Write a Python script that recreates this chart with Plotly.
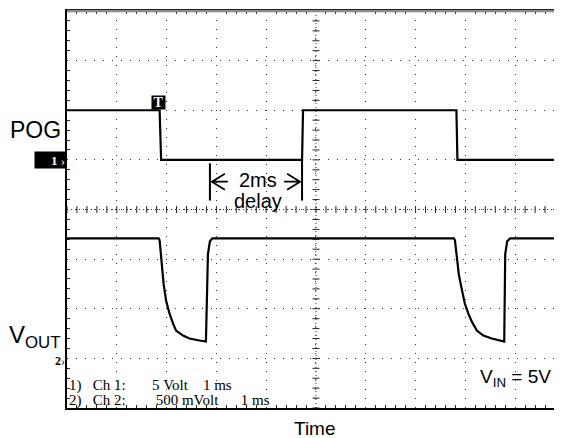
import plotly.graph_objects as go

# ---- data (time in ms, values in volts) ----
pog_t = [0.0, 1.86, 1.89, 4.72, 4.74, 7.82, 7.84, 9.9]
pog_v = [5.0, 5.0, 0.0, 0.0, 5.0, 5.0, 0.0, 0.0]

vout_t = [0.0, 1.84, 1.86, 1.89, 1.94, 1.99, 2.06, 2.13, 2.19, 2.33, 2.46, 2.66, 2.79,
          2.83, 2.87, 2.92,
          7.77, 7.79, 7.83, 7.87, 7.93, 7.99, 8.06, 8.13, 8.23, 8.36, 8.53, 8.69, 8.78,
          8.80, 8.84, 8.90, 9.9]
vout_v = [1.21, 1.21, 1.19, 1.03, 0.75, 0.58, 0.45, 0.35, 0.28, 0.23, 0.20, 0.18, 0.17,
          1.05, 1.18, 1.21,
          1.21, 1.19, 1.03, 0.84, 0.69, 0.55, 0.45, 0.37, 0.28, 0.23, 0.20, 0.18, 0.17,
          1.05, 1.18, 1.21, 1.21]

# scope readout: (word, number of spaces before it)
readout_line1 = [("1)", 0), ("Ch", 3), ("1:", 1), ("5", 7), ("Volt", 1), ("1", 4), ("ms", 1)]
readout_line2 = [("2)", 0), ("Ch", 3), ("2:", 1), ("500", 8), ("mVolt", 1), ("1", 6), ("ms", 1)]

# scope channel settings
ch1_volts_per_div = 5.0
ch1_offset_div = 1.0
ch2_volts_per_div = 0.5
ch2_offset_div = -3.0

pog_div = [ch1_offset_div + v / ch1_volts_per_div for v in pog_v]
vout_div = [ch2_offset_div + v / ch2_volts_per_div for v in vout_v]

delay_start = vout_t[14]   # VOUT recovered
delay_end = pog_t[3]       # POG rising edge

fig = go.Figure()

# centre crosshair ticks (graticule)
tick_x = [i * 0.2 for i in range(0, 50)]
tick_y = [-4 + i * 0.2 for i in range(0, 41)]
fig.add_trace(go.Scatter(x=tick_x, y=[0] * len(tick_x), mode="markers",
                         marker=dict(symbol="line-ns", size=5, line=dict(width=1, color="#222")),
                         hoverinfo="skip", showlegend=False))
fig.add_trace(go.Scatter(x=[5] * len(tick_y), y=tick_y, mode="markers",
                         marker=dict(symbol="line-ew", size=5, line=dict(width=1, color="#222")),
                         hoverinfo="skip", showlegend=False))

fig.add_trace(go.Scatter(x=pog_t, y=pog_div, mode="lines",
                         line=dict(color="black", width=2.2), showlegend=False))
fig.add_trace(go.Scatter(x=vout_t, y=vout_div, mode="lines",
                         line=dict(color="black", width=2.2), showlegend=False))

grid_common = dict(showgrid=True, gridcolor="#333", gridwidth=1, griddash="1px,8px",
                   zeroline=False, showticklabels=False, ticks="", dtick=1,
                   minor=dict(ticks="inside", ticklen=3, tickcolor="#222", dtick=0.2, showgrid=False))

fig.update_xaxes(range=[0, 9.9], showline=True, linecolor="black", linewidth=2,
                 mirror="ticks", **grid_common)
fig.update_yaxes(range=[-4, 4], showline=True, linecolor="black", linewidth=2,
                 mirror="ticks", **grid_common)

shapes = [
    dict(type="line", xref="x", yref="y", x0=0, x1=9.9, y0=0, y1=0,
         line=dict(color="#333", width=1, dash="1px,3px")),
    dict(type="line", xref="x", yref="y", x0=5, x1=5, y0=-4, y1=4,
         line=dict(color="#333", width=1, dash="1px,3px")),
    dict(type="line", xref="paper", yref="paper", x0=0, x1=1, y0=1, y1=1,
         line=dict(color="#8a8a8a", width=2.5)),
    dict(type="line", xref="x", yref="y", x0=delay_start, x1=delay_start, y0=0.18, y1=0.93,
         line=dict(color="black", width=2)),
    dict(type="line", xref="x", yref="y", x0=delay_end, x1=delay_end, y0=0.18, y1=1.0,
         line=dict(color="black", width=2)),
    dict(type="path", xref="x", yref="y",
         path=f"M {delay_start+0.30},0.72 L {delay_start+0.04},0.56 L {delay_start+0.30},0.40 "
              f"M {delay_start+0.04},0.56 L {delay_start+0.36},0.56",
         line=dict(color="black", width=1.8)),
    dict(type="path", xref="x", yref="y",
         path=f"M {delay_end-0.30},0.72 L {delay_end-0.04},0.56 L {delay_end-0.30},0.40 "
              f"M {delay_end-0.04},0.56 L {delay_end-0.36},0.56",
         line=dict(color="black", width=1.8)),
]

sans = "Liberation Sans, Arial, sans-serif"
tserif = "Liberation Serif, Times New Roman, serif"
nb = "\u00a0"


def readout_text(words):
    return "".join(nb * n + w for w, n in words)


annotations = [
    dict(text="POG", xref="paper", yref="y", x=-0.008, y=1.6, xanchor="right", yanchor="middle",
         showarrow=False, font=dict(family=sans, size=23, color="black")),
    dict(text="V<sub>OUT</sub>", xref="paper", yref="y", x=-0.01, y=-2.55, xanchor="right",
         yanchor="middle", showarrow=False, font=dict(family=sans, size=24, color="black")),
    dict(text="<b>1</b>" + nb + "›", xref="paper", yref="y", x=0, y=1.0, xanchor="right",
         yanchor="middle", showarrow=False, bgcolor="black", width=29, height=14, align="right",
         borderpad=1, font=dict(family=tserif, size=13, color="white")),
    dict(text="<b>2</b>›", xref="paper", yref="y", x=0, y=-3.05, xanchor="right",
         yanchor="middle", showarrow=False, font=dict(family=tserif, size=12, color="black")),
    dict(text="<b>T</b>", xref="x", yref="y", x=1.84, y=2.15, xanchor="center", yanchor="middle",
         showarrow=False, bgcolor="black", width=13, height=13, borderpad=0,
         font=dict(family=tserif, size=14, color="white")),
    dict(text="2ms", xref="x", yref="y", x=(delay_start + delay_end) / 2 + 0.04, y=0.6,
         xanchor="center", yanchor="middle", showarrow=False,
         font=dict(family=sans, size=20, color="black")),
    dict(text="delay", xref="x", yref="y", x=(delay_start + delay_end) / 2 + 0.04, y=0.18,
         xanchor="center", yanchor="middle", showarrow=False,
         font=dict(family=sans, size=20, color="black")),
    dict(text="V<sub>IN</sub> = 5V", xref="paper", yref="y", x=0.985, y=-3.4, xanchor="right",
         yanchor="middle", showarrow=False, font=dict(family=sans, size=19, color="black")),
    dict(text="Time", xref="paper", yref="paper", x=0.504, y=-0.02, xanchor="center",
         yanchor="top", showarrow=False, font=dict(family=sans, size=19, color="black")),
    dict(text=readout_text(readout_line1), xref="x", yref="y", x=0.03, y=-3.55, xanchor="left",
         yanchor="middle", showarrow=False, borderpad=0,
         font=dict(family=tserif, size=15, color="black")),
    dict(text=readout_text(readout_line2), xref="x", yref="y", x=0.03, y=-3.84, xanchor="left",
         yanchor="middle", showarrow=False, borderpad=0,
         font=dict(family=tserif, size=15, color="black")),
]

fig.update_layout(width=554, height=430, margin=dict(l=59, r=0, t=3, b=30),
                  plot_bgcolor="white", paper_bgcolor="white",
                  shapes=shapes, annotations=annotations, showlegend=False)

fig.write_html("out.html")
